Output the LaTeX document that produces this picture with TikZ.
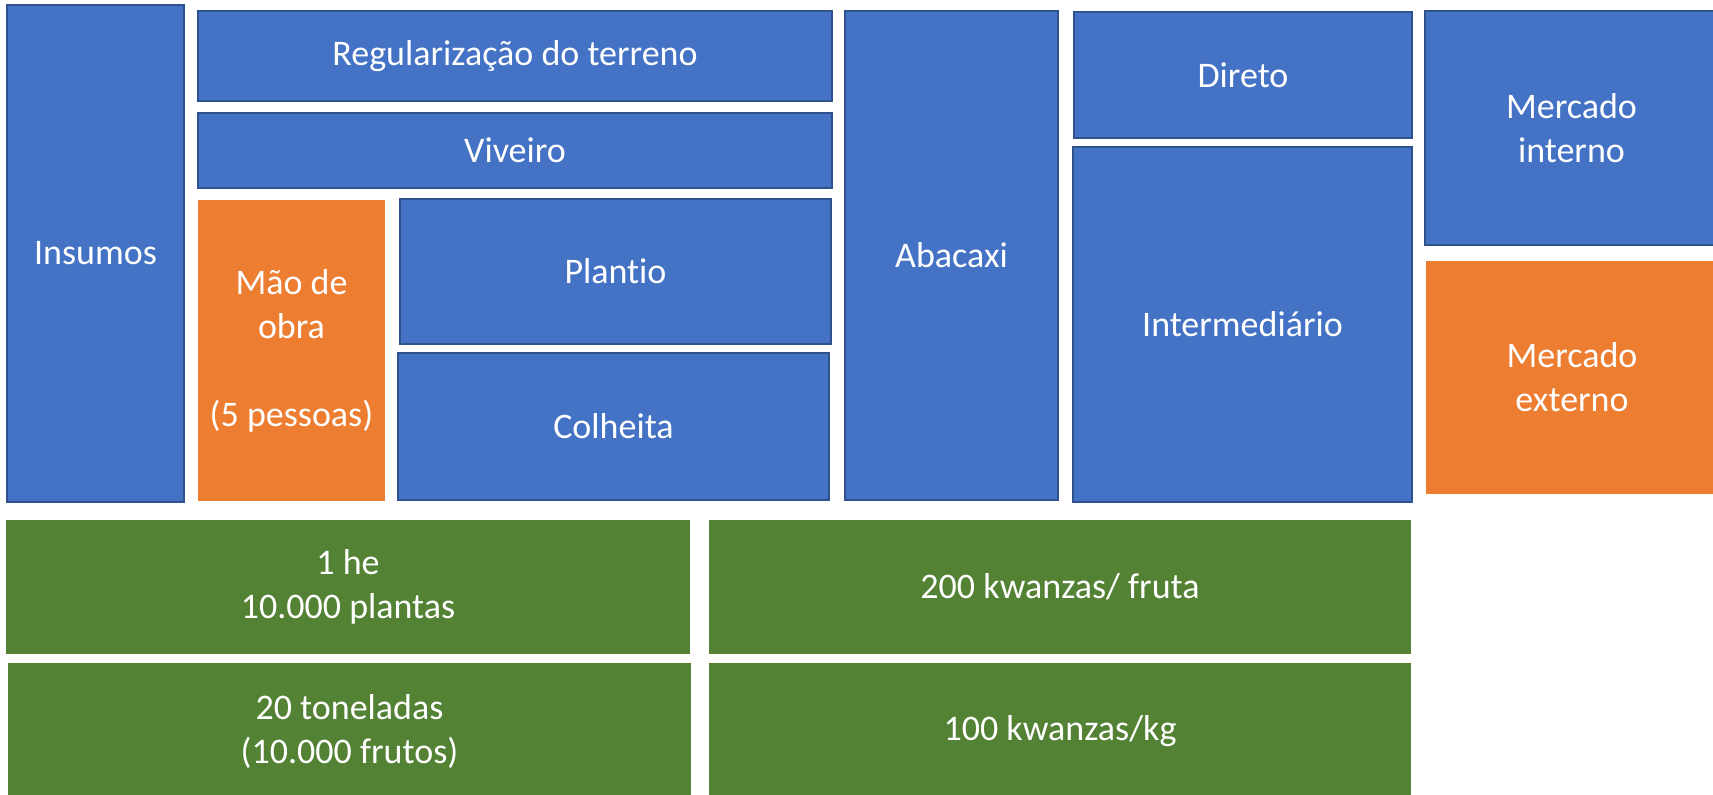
\documentclass[tikz,border=0pt]{standalone}
\usepackage{fontspec}
\setmainfont[Ligatures=NoCommon]{Carlito}
\definecolor{boxblue}{HTML}{4472C4}
\definecolor{boxbluedark}{HTML}{2F528F}
\definecolor{boxorange}{HTML}{ED7D31}
\definecolor{boxgreen}{HTML}{548235}

\begin{document}
\begin{tikzpicture}[
  x=0.5pt, y=-0.5pt,
  cell/.style={inner sep=0pt, outer sep=0pt, align=center, text=white, font=\fontsize{18}{22}\selectfont},
  bluecell/.style={cell, fill=boxblue, draw=boxbluedark, line width=1pt},
  orangecell/.style={cell, fill=boxorange},
  greencell/.style={cell, fill=boxgreen}
]
  \useasboundingbox (0,0) rectangle (1713,794);

  % inputs and production
  \node[bluecell, minimum width=88.5pt, minimum height=248.5pt] (insumos) at (95.5,253.5) {Insumos};
  \node[bluecell, minimum width=317pt, minimum height=45pt] (terreno) at (515,56) {Regularização do terreno};
  \node[bluecell, minimum width=317pt, minimum height=37.5pt] (viveiro) at (515,150.5) {Viveiro};
  \node[orangecell, minimum width=93.5pt, minimum height=150.5pt] (maodeobra) at (291.5,350.5) {Mão de\\obra\\[22pt](5 pessoas)};
  \node[bluecell, minimum width=215.5pt, minimum height=72.5pt] (plantio) at (615.5,271.5) {Plantio};
  \node[bluecell, minimum width=215.5pt, minimum height=73.5pt] (colheita) at (613.5,426.5) {Colheita};

  % product and channels
  \node[bluecell, minimum width=106.5pt, minimum height=244.5pt] (abacaxi) at (951.5,255.5) {Abacaxi};
  \node[bluecell, minimum width=169pt, minimum height=63pt] (direto) at (1243,75) {Direto};
  \node[bluecell, minimum width=169.5pt, minimum height=177.5pt] (intermediario) at (1242.5,324.5) {Intermediário};
  \node[bluecell, minimum width=146.5pt, minimum height=117pt] (mercinterno) at (1571.5,128) {Mercado\\interno};
  \node[orangecell, minimum width=146pt, minimum height=116.5pt] (mercexterno) at (1572,377.5) {Mercado\\externo};

  % figures
  \node[greencell, minimum width=342pt, minimum height=67pt] (area) at (348,587) {1 he\\10.000 plantas};
  \node[greencell, minimum width=351pt, minimum height=67pt] (precofruta) at (1060,587) {200 kwanzas/ fruta};
  \node[greencell, minimum width=341.5pt, minimum height=68.5pt] (producao) at (349.5,731.5) {20 toneladas\\(10.000 frutos)};
  \node[greencell, minimum width=351pt, minimum height=68.5pt] (precokg) at (1060,731.5) {100 kwanzas/kg};
\end{tikzpicture}
\end{document}
